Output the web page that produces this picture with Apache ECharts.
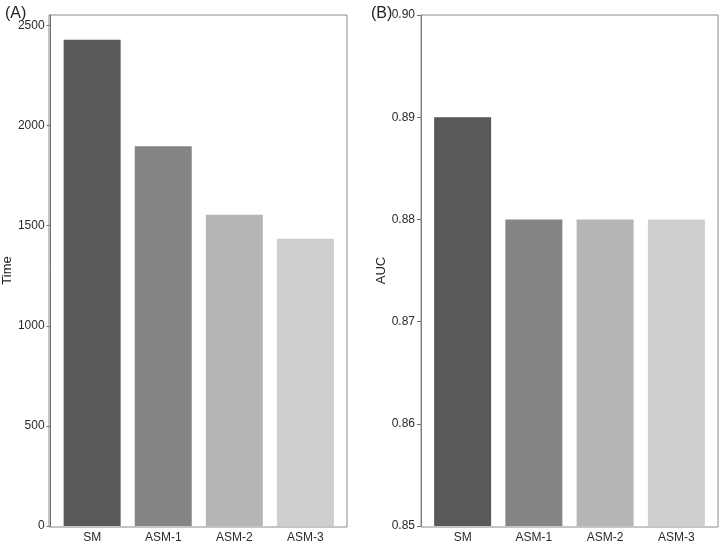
<!DOCTYPE html>
<html>
<head>
<meta charset="utf-8">
<script src="https://cdn.jsdelivr.net/npm/echarts@6/dist/echarts.min.js"></script>
<style>
  html, body { margin: 0; padding: 0; background: #fff; }
  #chart { width: 720px; height: 544px; }
</style>
</head>
<body>
<div id="chart"></div>
<script>
'use strict';
var categories = ['SM', 'ASM-1', 'ASM-2', 'ASM-3'];
var timeValues = [2428, 1896, 1554, 1434];
var aucValues = [0.89, 0.88, 0.88, 0.88];
var timeTicks = [0, 500, 1000, 1500, 2000, 2500];
var barColors = ['#5a5858', '#858585', '#b5b5b5', '#cdcfce'];

var myChart = echarts.init(document.getElementById('chart'));

var labelFont = { fontFamily: 'Liberation Sans', fontSize: 12, color: '#2a2a2a' };
var axisColor = '#6e6e6e';

function catAxis(grid) {
	return {
		type: 'category',
		gridIndex: grid,
		data: categories,
		axisLine: { show: false },
		axisTick: { show: false },
		axisLabel: Object.assign({ margin: 6 }, labelFont)
	};
}

function barSeries(grid, values) {
	return {
		type: 'bar',
		xAxisIndex: grid,
		yAxisIndex: grid,
		barWidth: 57,
		data: values.map(function (v, i) {
			return { value: v, itemStyle: { color: barColors[i] } };
		})
	};
}

var option = {
	animation: false,
	title: [
		{ text: '(A)', left: 0, top: 1, textStyle: { fontFamily: 'Liberation Sans', fontSize: 16, fontWeight: 'normal', color: '#222' } },
		{ text: '(B)', left: 366, top: 1, textStyle: { fontFamily: 'Liberation Sans', fontSize: 16, fontWeight: 'normal', color: '#222' } }
	],
	grid: [
		{ left: 55, top: 15, width: 286, bottom: 17 },
		{ left: 427, top: 15, width: 285, bottom: 17 }
	],
	xAxis: [catAxis(0), catAxis(1)],
	yAxis: [{
		type: 'value',
		gridIndex: 0,
		min: 0,
		max: 2552,
		offset: 6,
		name: 'Time',
		nameLocation: 'middle',
		nameGap: 36,
		nameTextStyle: { fontFamily: 'Liberation Sans', fontSize: 13, color: '#222' },
		splitLine: { show: false },
		axisLine: { show: true, lineStyle: { color: axisColor } },
		axisTick: { show: true, length: 4, customValues: timeTicks, lineStyle: { color: axisColor } },
		axisLabel: Object.assign({
			margin: 6,
			customValues: timeTicks,
			formatter: function (v) { return String(v); }
		}, labelFont)
	}, {
		type: 'value',
		gridIndex: 1,
		min: 0.85,
		max: 0.90,
		interval: 0.01,
		offset: 6,
		name: 'AUC',
		nameLocation: 'middle',
		nameGap: 30,
		nameTextStyle: { fontFamily: 'Liberation Sans', fontSize: 13, color: '#222' },
		splitLine: { show: false },
		axisLine: { show: true, lineStyle: { color: axisColor } },
		axisTick: { show: true, length: 4, lineStyle: { color: axisColor } },
		axisLabel: Object.assign({
			margin: 6,
			formatter: function (v) { return v.toFixed(2); }
		}, labelFont)
	}],
	graphic: [
		{ type: 'rect', shape: { x: 49, y: 15, width: 298, height: 512 }, style: { fill: 'none', stroke: '#8a8a8a', lineWidth: 1 }, z: 10 },
		{ type: 'rect', shape: { x: 421, y: 15, width: 297, height: 512 }, style: { fill: 'none', stroke: '#8a8a8a', lineWidth: 1 }, z: 10 }
	],
	series: [barSeries(0, timeValues), barSeries(1, aucValues)]
};
myChart.setOption(option);
</script>
</body>
</html>
